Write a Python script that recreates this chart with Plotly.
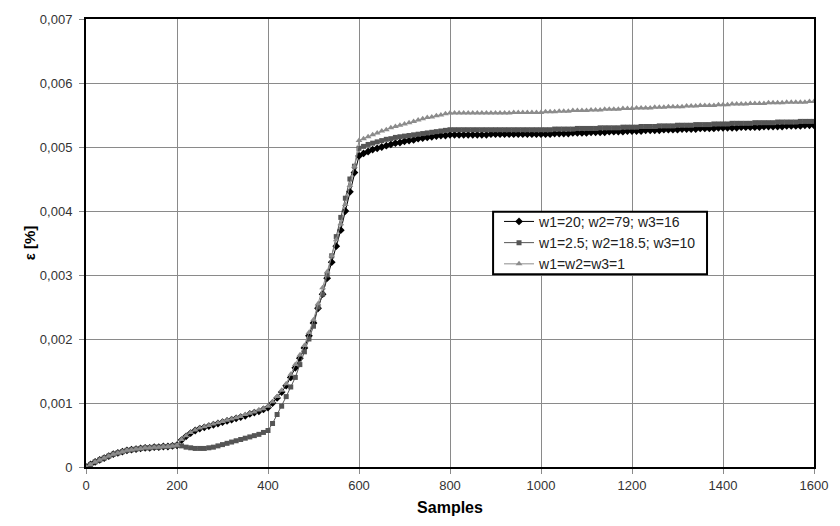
import plotly.graph_objects as go

samples = list(range(0, 1601, 10))

eps_w20 = [
    0, 0.00004, 0.00008, 0.00011, 0.00014, 0.00017, 0.0002, 0.00022, 0.00024, 0.00026, 0.00027,
    0.00028, 0.00029, 0.0003, 0.0003, 0.00031, 0.00031, 0.00032, 0.00032, 0.00033, 0.00034,
    0.00042, 0.00048, 0.00053, 0.00057, 0.0006, 0.00062, 0.00064, 0.00066, 0.00068, 0.0007,
    0.00072, 0.00074, 0.00076, 0.00078, 0.0008, 0.00083, 0.00085, 0.00087, 0.0009, 0.00093,
    0.001, 0.00108, 0.00117, 0.00127, 0.0014, 0.00155, 0.0017, 0.00186, 0.00205, 0.00225,
    0.00248, 0.0027, 0.00295, 0.0032, 0.00345, 0.0037, 0.004, 0.0043, 0.0046, 0.00486,
    0.0049, 0.00493, 0.00496, 0.00498, 0.005, 0.00502, 0.00504, 0.00506, 0.00507, 0.00509,
    0.0051, 0.00511, 0.00513, 0.00514, 0.00515, 0.00516, 0.00517, 0.00518, 0.00518, 0.00519,
    0.00519, 0.00519, 0.00519, 0.00519, 0.00519, 0.00519, 0.00519, 0.00519, 0.0052, 0.0052,
    0.0052, 0.0052, 0.0052, 0.0052, 0.0052, 0.0052, 0.0052, 0.0052, 0.0052, 0.0052,
    0.0052, 0.0052, 0.00521, 0.00521, 0.00521, 0.00521, 0.00522, 0.00522, 0.00522, 0.00522,
    0.00523, 0.00523, 0.00523, 0.00523, 0.00524, 0.00524, 0.00524, 0.00524, 0.00525, 0.00525,
    0.00525, 0.00525, 0.00526, 0.00526, 0.00526, 0.00526, 0.00527, 0.00527, 0.00527, 0.00527,
    0.00528, 0.00528, 0.00528, 0.00528, 0.00529, 0.00529, 0.00529, 0.00529, 0.0053, 0.0053,
    0.0053, 0.0053, 0.0053, 0.00531, 0.00531, 0.00531, 0.00531, 0.00531, 0.00532, 0.00532,
    0.00532, 0.00532, 0.00532, 0.00533, 0.00533, 0.00533, 0.00533, 0.00534, 0.00534, 0.00534,
]

eps_w25 = [
    0, 0.00004, 0.00008, 0.00011, 0.00014, 0.00017, 0.0002, 0.00022, 0.00024, 0.00026, 0.00027,
    0.00028, 0.00029, 0.0003, 0.0003, 0.00031, 0.00031, 0.00032, 0.00032, 0.00033, 0.00034,
    0.00033, 0.00031, 0.0003, 0.00029, 0.00029, 0.00029, 0.0003, 0.00031, 0.00033, 0.00035,
    0.00037, 0.00039, 0.00041, 0.00043, 0.00045, 0.00047, 0.00049, 0.00051, 0.00054, 0.00057,
    0.00068, 0.00082, 0.00095, 0.0011, 0.00125, 0.0014, 0.0016, 0.0018, 0.002, 0.0022,
    0.0025, 0.0027, 0.003, 0.0033, 0.0036, 0.0039, 0.0042, 0.0045, 0.0047, 0.00498,
    0.00501, 0.00504, 0.00506, 0.00508, 0.0051, 0.00512, 0.00513, 0.00515, 0.00516, 0.00517,
    0.00518, 0.00519, 0.0052, 0.00521, 0.00522, 0.00523, 0.00524, 0.00525, 0.00526, 0.00527,
    0.00527, 0.00527, 0.00527, 0.00527, 0.00527, 0.00527, 0.00527, 0.00527, 0.00527, 0.00527,
    0.00527, 0.00527, 0.00527, 0.00527, 0.00527, 0.00527, 0.00527, 0.00527, 0.00527, 0.00527,
    0.00527, 0.00527, 0.00528, 0.00528, 0.00528, 0.00528, 0.00528, 0.00529, 0.00529, 0.00529,
    0.00529, 0.00529, 0.0053, 0.0053, 0.0053, 0.0053, 0.0053, 0.00531, 0.00531, 0.00531,
    0.00531, 0.00532, 0.00532, 0.00532, 0.00532, 0.00533, 0.00533, 0.00533, 0.00533, 0.00534,
    0.00534, 0.00534, 0.00534, 0.00535, 0.00535, 0.00535, 0.00535, 0.00536, 0.00536, 0.00536,
    0.00536, 0.00537, 0.00537, 0.00537, 0.00537, 0.00537, 0.00538, 0.00538, 0.00538, 0.00538,
    0.00538, 0.00539, 0.00539, 0.00539, 0.00539, 0.00539, 0.0054, 0.0054, 0.0054, 0.0054,
]

eps_w1 = [
    0, 0.00004, 0.00008, 0.00011, 0.00014, 0.00017, 0.0002, 0.00022, 0.00024, 0.00026, 0.00027,
    0.00028, 0.00029, 0.0003, 0.0003, 0.00031, 0.00031, 0.00032, 0.00032, 0.00033, 0.00034,
    0.00043, 0.00049, 0.00054, 0.00058, 0.00061, 0.00063, 0.00065, 0.00067, 0.00069, 0.00071,
    0.00073, 0.00075, 0.00077, 0.00079, 0.00082, 0.00084, 0.00086, 0.00089, 0.00091, 0.00095,
    0.00102, 0.0011, 0.0012, 0.0013, 0.00145, 0.0016, 0.00175, 0.0019, 0.0021, 0.0023,
    0.00255, 0.0028, 0.00305, 0.0033, 0.00355, 0.0038, 0.0041, 0.0044, 0.0047, 0.0051,
    0.00513, 0.00516, 0.00519, 0.00522, 0.00525, 0.00527, 0.0053, 0.00532, 0.00534, 0.00536,
    0.00538, 0.0054, 0.00542, 0.00544, 0.00546, 0.00547, 0.00549, 0.0055, 0.00552, 0.00553,
    0.00553, 0.00553, 0.00553, 0.00553, 0.00553, 0.00553, 0.00553, 0.00553, 0.00553, 0.00553,
    0.00553, 0.00553, 0.00553, 0.00554, 0.00554, 0.00554, 0.00554, 0.00554, 0.00554, 0.00554,
    0.00555, 0.00555, 0.00555, 0.00556, 0.00556, 0.00556, 0.00557, 0.00557, 0.00557, 0.00557,
    0.00558, 0.00558, 0.00558, 0.00559, 0.00559, 0.00559, 0.00559, 0.0056, 0.0056, 0.0056,
    0.00561, 0.00561, 0.00561, 0.00561, 0.00562, 0.00562, 0.00562, 0.00563, 0.00563, 0.00563,
    0.00563, 0.00564, 0.00564, 0.00564, 0.00565, 0.00565, 0.00565, 0.00565, 0.00566, 0.00566,
    0.00566, 0.00567, 0.00567, 0.00567, 0.00567, 0.00568, 0.00568, 0.00568, 0.00568, 0.00569,
    0.00569, 0.00569, 0.00569, 0.0057, 0.0057, 0.0057, 0.0057, 0.0057, 0.00571, 0.00571,
]

series_names = ["w1=20; w2=79; w3=16", "w1=2.5; w2=18.5; w3=10", "w1=w2=w3=1"]
x_ticks = list(range(0, 1601, 200))
y_ticks = [0, 0.001, 0.002, 0.003, 0.004, 0.005, 0.006, 0.007]
y_labels = ["0", "0,001", "0,002", "0,003", "0,004", "0,005", "0,006", "0,007"]

styles = [
    dict(color="#000000", symbol="diamond", size=6),
    dict(color="#555555", symbol="square", size=5),
    dict(color="#8c8c8c", symbol="triangle-up", size=6),
]

W, H = 840, 526
ML, MR, MT, MB = 86, 19, 15, 53
pw, ph = W - ML - MR, H - MT - MB

def px_x(p):
    return (p - ML) / pw

def px_y(p):
    return (H - MB - p) / ph

fig = go.Figure()
for name, vals, st in zip(series_names, [eps_w20, eps_w25, eps_w1], styles):
    fig.add_trace(go.Scatter(
        x=samples, y=vals, name=name, mode="lines+markers",
        line=dict(color=st["color"], width=1),
        marker=dict(color=st["color"], symbol=st["symbol"], size=st["size"], line=dict(width=0)),
    ))

# legend frame (legend itself is transparent, drawn on top)
fig.add_shape(type="rect", xref="paper", yref="paper", layer="above",
              x0=px_x(497), x1=px_x(713), y0=px_y(276), y1=px_y(212),
              fillcolor="white", line=dict(color="black", width=2))

fig.update_layout(
    width=W, height=H,
    margin=dict(l=ML, r=MR, t=MT, b=MB),
    paper_bgcolor="white", plot_bgcolor="white",
    font=dict(family="Liberation Sans, Arial, sans-serif", size=12, color="#333333"),
    legend=dict(
        x=px_x(503), y=px_y(206), xanchor="left", yanchor="top",
        bgcolor="rgba(0,0,0,0)", borderwidth=0,
        font=dict(family="Liberation Sans, Arial, sans-serif", size=14, color="#222222"),
        tracegroupgap=0, itemwidth=30,
    ),
    xaxis=dict(
        range=[0, 1600], tickvals=x_ticks, ticktext=[str(v) for v in x_ticks],
        showgrid=True, gridcolor="#8a8a8a", gridwidth=1,
        showline=True, linecolor="black", linewidth=2, mirror=True,
        ticks="outside", ticklen=5, tickcolor="#8a8a8a", ticklabeloverflow="allow",
        tickfont=dict(family="Liberation Sans Narrow, Arial Narrow, Liberation Sans, sans-serif", size=13, color="#333333"),
        title=dict(text="<b>Samples</b>", standoff=10,
                   font=dict(family="Liberation Sans Narrow, Arial Narrow, Liberation Sans, sans-serif", size=16, color="black")),
        zeroline=False,
    ),
    yaxis=dict(
        range=[0, 0.007], tickvals=y_ticks, ticktext=y_labels,
        showgrid=True, gridcolor="#8a8a8a", gridwidth=1,
        showline=True, linecolor="black", linewidth=2, mirror=True,
        ticks="outside", ticklen=5, tickcolor="#8a8a8a", ticklabelstandoff=4,
        tickfont=dict(size=13, color="#333333"),
        title=dict(text="<b>ε [%]</b>", standoff=1, font=dict(size=15, color="black")),
        zeroline=False,
    ),
)

fig.write_html("out.html")
